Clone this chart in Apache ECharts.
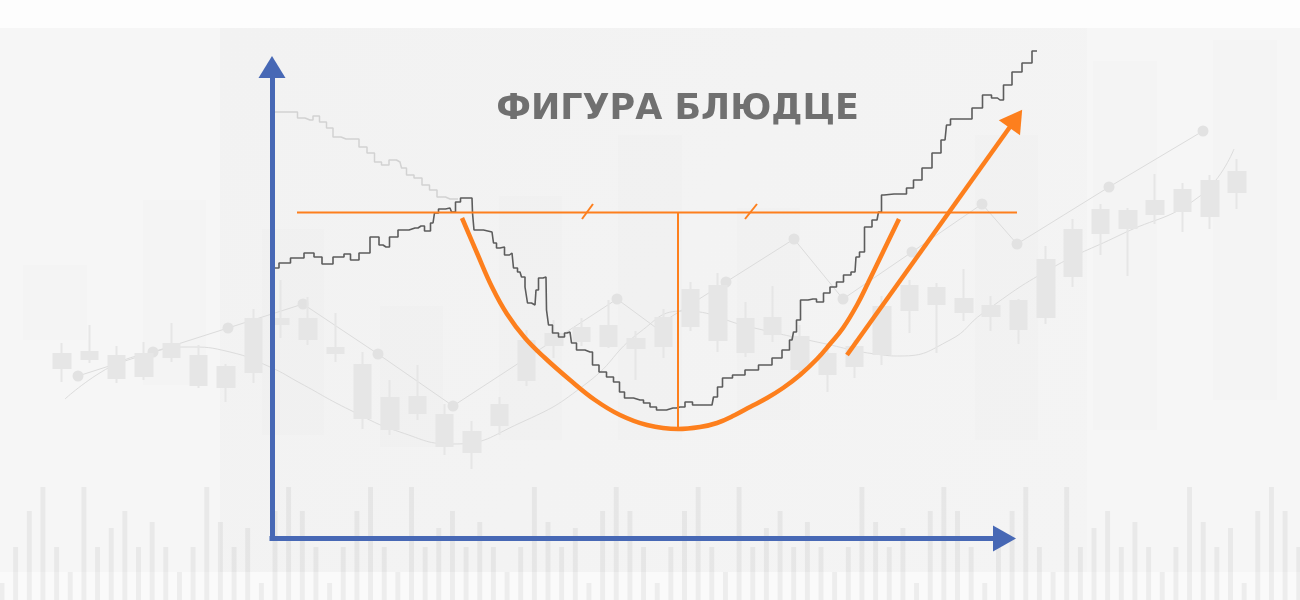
<!DOCTYPE html>
<html><head><meta charset="utf-8">
<script src="https://cdn.jsdelivr.net/npm/echarts@6/dist/echarts.min.js"></script>
<style>html,body{margin:0;padding:0;background:#f6f6f6;overflow:hidden}#c{width:1300px;height:600px}</style>
</head><body><div id="c"></div><script>
// ---- data ----
const titleText = 'ФИГУРА БЛЮДЦЕ';

// price path (time, price)
const priceLine = [[275,332],[283,337],[298,342],[310,347],[318,343],[326,336],[340,343],[348,346],[353,340],[365,347],[375,363],[383,355],[386,353],[393,363],[403,370],[415,372],[421,374],[428,369],[433,377],[436,387],[441,391],[450,392],[453,388],[458,398],[463,402],[472,402],[473,387],[475,370],[492,368],[495,357],[498,352],[502,353],[507,345],[512,347],[515,332],[520,328],[523,323],[527,313],[528,297],[535,295],[537,310],[540,322],[546,323],[547,290],[550,275],[555,267],[562,263],[567,267],[570,268],[573,257],[580,250],[590,248],[595,235],[603,228],[610,223],[617,218],[622,208],[627,202],[640,200],[647,197],[653,193],[660,190],[673,192],[680,193],[690,198],[695,195],[712,195],[715,203],[720,213],[725,222],[740,225],[750,230],[767,235],[777,242],[787,250],[792,260],[795,268],[798,280],[803,300],[813,301],[820,298],[827,307],[833,313],[840,318],[847,325],[855,328],[857,343],[862,348],[867,373],[877,380],[880,388],[883,405],[885,406],[903,406],[910,412],[917,420],[927,432],[937,447],[945,460],[948,475],[953,481],[967,481],[977,492],[988,505],[995,502],[1000,500],[1007,515],[1017,528],[1027,537],[1037,549]];
const priorTrend = [[275,488],[295,488],[300,482],[310,480],[316,484],[323,478],[330,472],[336,463],[346,461],[355,461],[363,453],[371,447],[378,438],[385,435],[393,440],[400,438],[403,432],[410,425],[418,422],[426,415],[433,410],[441,403],[450,401],[458,401]];

// background candles: [open, close, low, high]
const candles = [[232,246,218,257],[241,248,237,275],[222,244,217,254],[224,246,220,258],[243,256,238,277],[244,215,212,255],[233,213,198,236],[228,281,217,291],[276,281,262,320],[281,261,255,303],[252,247,238,287],[235,182,171,248],[202,171,165,220],[187,203,180,235],[185,154,145,196],[148,168,131,179],[175,195,165,203],[220,259,214,270],[266,255,242,280],[259,272,254,282],[274,254,252,300],[261,252,220,269],[254,282,242,291],[274,310,269,318],[314,260,248,327],[281,248,243,298],[266,282,258,314],[263,231,223,275],[246,226,208,255],[234,253,222,260],[246,293,235,304],[290,314,267,320],[312,296,247,317],[288,301,279,331],[294,284,269,304],[271,299,256,301],[283,340,276,354],[324,370,313,381],[367,390,345,396],[389,372,324,392],[386,399,376,426],[389,410,368,417],[384,419,371,425],[408,428,391,441]];
const candleDays = candles.map((_, i) => String(i + 1));

// background volume bars
const volume = [17,53,89,113,53,28,113,53,72,89,53,78,53,28,53,113,78,53,72,17,89,113,89,53,
                17,53,89,113,53,28,113,53,72,89,53,78,53,28,53,113,78,53,72,17,89,113,89,53,
                17,53,89,113,53,28,113,53,72,89,53,78,53,28,53,113,78,53,72,17,89,113,89,53,
                17,53,89,113,53,28,113,53,72,89,53,78,53,28,53,113,78,53,72,17,89,113,89,53];
const volumeSlots = volume.map((_, i) => String(i + 1));

// background moving averages
const maFast = [[78,224],[153,248],[228,272],[303,296],[378,246],[453,194],[617,301],[655,273],[726,318],[794,361],[843,301],[912,348],[982,396],[1017,356],[1109,413],[1203,469]];
const maFastHidden = [655];
const maSlow = [[65,201],[110,233],[153,248],[187,253],[230,248],[270,233],[300,217],[350,190],[400,168],[453,156],[520,177],[587,217],[640,268],[683,289],[750,273],[817,258],[883,245],[900,244],[950,260],[983,287],[1050,331],[1120,365],[1200,404],[1234,451]];

// faint background blocks: [t1, t2, low, high]
const bgBlocks = [[23,87,260,335],[143,206,215,400],[262,324,165,371],[380,443,153,294],[499,562,160,404],[618,682,160,465],[737,800,180,392],[975,1038,160,465],[1093,1157,170,539],[1213,1277,200,560]];

// annotations
const resistance = [[297,387.5],[1017,387.5]];
const symmetryTicks = [[[582,381],[593,396]],[[745,381],[757,396]]];
const depthLine = [[677.5,387.5],[677.5,172]];
const saucer = [[462,382],[477,347],[492,313],[507,286],[525,262],[545,242],[570,220],[595,200],[620,185],[647,175],[678,171],[700,173],[717,177],[735,185],[750,193],[767,202],[783,212],[800,225],[817,241],[830,256],[843,272],[857,295],[868,317],[883,348],[899,381]];
const breakout = [[847,245],[1015.8,481.2]];

// ---- styles ----
const ORANGE = '#fd7f1d';
const BLUE = '#4768b5';
const FAINT = '#e6e6e6';

const chart = echarts.init(document.getElementById('c'), null, {renderer: 'canvas'});
chart.setOption({
  backgroundColor: '#f6f6f6',
  animation: false,
  graphic: [
    {type: 'rect', z: 0, shape: {x: 0, y: 0, width: 1300, height: 28}, style: {fill: '#fdfdfd'}},
    {type: 'rect', z: 0, shape: {x: 220, y: 28, width: 867, height: 544},
      style: {fill: new echarts.graphic.LinearGradient(0, 0, 1, 1, [{offset: 0, color: '#f2f2f2'}, {offset: 1, color: '#f4f4f4'}])}},
    {type: 'rect', z: 0, shape: {x: 0, y: 572, width: 1300, height: 28}, style: {fill: 'rgba(255,255,255,0.45)'}},
    {type: 'text', z: 100, style: {x: 677.5, y: 109.5, text: titleText, align: 'center', verticalAlign: 'middle',
      font: 'bold 35px "DejaVu Sans", sans-serif', fill: '#707070'}}
  ],
  grid: [
    {left: 0, right: 0, top: 0, bottom: 0},
    {left: 272, right: 295.5, top: 67, bottom: 61.5},
    {left: 2, right: 1.25, top: 480, bottom: 0},
    {left: 48.3, right: 49.1, top: 0, bottom: 0}
  ],
  xAxis: [
    {gridIndex: 0, type: 'value', min: 0, max: 1300, show: false},
    {gridIndex: 1, type: 'value', min: 0, max: 100, z: 20,
      axisLine: {show: true, onZero: false, symbol: ['none', 'triangle'], symbolSize: [26, 23],
        lineStyle: {color: BLUE, width: 5, cap: 'square'}},
      axisTick: {show: false}, axisLabel: {show: false}, splitLine: {show: false}},
    {gridIndex: 2, type: 'category', data: volumeSlots, boundaryGap: false, show: false},
    {gridIndex: 3, type: 'category', data: candleDays, boundaryGap: true, show: false}
  ],
  yAxis: [
    {gridIndex: 0, type: 'value', min: 0, max: 600, show: false},
    {gridIndex: 1, type: 'value', min: 0, max: 100, z: 20,
      axisLine: {show: true, onZero: false, symbol: ['none', 'triangle'], symbolSize: [27, 22],
        lineStyle: {color: BLUE, width: 5, cap: 'square'}},
      axisTick: {show: false}, axisLabel: {show: false}, splitLine: {show: false}},
    {gridIndex: 2, type: 'value', min: 0, max: 120, show: false},
    {gridIndex: 3, type: 'value', min: 0, max: 600, show: false}
  ],
  series: [
    {type: 'custom', name: 'blocks', xAxisIndex: 0, yAxisIndex: 0, z: 1, silent: true, clip: false,
      data: bgBlocks,
      renderItem: function (params, api) {
        const a = api.coord([api.value(0), api.value(3)]);
        const b = api.coord([api.value(1), api.value(2)]);
        return {type: 'rect', shape: {x: a[0], y: a[1], width: b[0] - a[0], height: b[1] - a[1]},
          style: {fill: 'rgba(0,0,0,0.009)'}};
      }},
    {type: 'bar', name: 'volume', xAxisIndex: 2, yAxisIndex: 2, z: 2, silent: true, clip: false,
      barWidth: 5, data: volume, itemStyle: {color: 'rgba(0,0,0,0.05)'}},
    {type: 'line', name: 'maSlow', xAxisIndex: 0, yAxisIndex: 0, z: 3, silent: true,
      data: maSlow, smooth: 0.5, symbol: 'none', lineStyle: {color: '#dcdcdc', width: 1}},
    {type: 'line', name: 'maFast', xAxisIndex: 0, yAxisIndex: 0, z: 3, silent: true,
      data: maFast.map(p => maFastHidden.includes(p[0]) ? {value: p, symbol: 'none'} : p),
      symbol: 'circle', symbolSize: 11, showSymbol: true,
      itemStyle: {color: '#e2e2e2'}, lineStyle: {color: '#dcdcdc', width: 1}},
    {type: 'candlestick', name: 'candles', xAxisIndex: 3, yAxisIndex: 3, z: 3, silent: true,
      data: candles, barWidth: 17,
      itemStyle: {color: FAINT, color0: FAINT, borderColor: FAINT, borderColor0: FAINT, borderWidth: 2}},
    {type: 'line', name: 'prior', xAxisIndex: 0, yAxisIndex: 0, z: 4, silent: true,
      data: priorTrend, step: 'middle', symbol: 'none', lineStyle: {color: '#d2d2d2', width: 1.5}},
    {type: 'line', name: 'price', xAxisIndex: 0, yAxisIndex: 0, z: 5, silent: true,
      data: priceLine, step: 'middle', symbol: 'none', lineStyle: {color: '#5c5c5c', width: 1.6}},
    {type: 'line', name: 'resistance', xAxisIndex: 0, yAxisIndex: 0, z: 6, silent: true,
      data: resistance, symbol: 'none', lineStyle: {color: ORANGE, width: 2}},
    {type: 'lines', name: 'ticks', coordinateSystem: 'cartesian2d', xAxisIndex: 0, yAxisIndex: 0, z: 6, silent: true,
      data: symmetryTicks.map(c => ({coords: c})), lineStyle: {color: ORANGE, width: 2, opacity: 1}},
    {type: 'lines', name: 'depth', coordinateSystem: 'cartesian2d', xAxisIndex: 0, yAxisIndex: 0, z: 6, silent: true,
      data: [{coords: depthLine}], lineStyle: {color: ORANGE, width: 2, opacity: 1}},
    {type: 'line', name: 'saucer', xAxisIndex: 0, yAxisIndex: 0, z: 6, silent: true,
      data: saucer, smooth: 0.4, symbol: 'none', lineStyle: {color: ORANGE, width: 4.5}},
    {type: 'line', name: 'breakout', xAxisIndex: 0, yAxisIndex: 0, z: 6, silent: true,
      data: [breakout[0], {value: breakout[1], symbol: 'triangle', symbolSize: [26, 22], symbolRotate: -35.4}],
      symbol: 'none', showSymbol: true, itemStyle: {color: ORANGE}, lineStyle: {color: ORANGE, width: 4.5}}
  ]
});
</script></body></html>
